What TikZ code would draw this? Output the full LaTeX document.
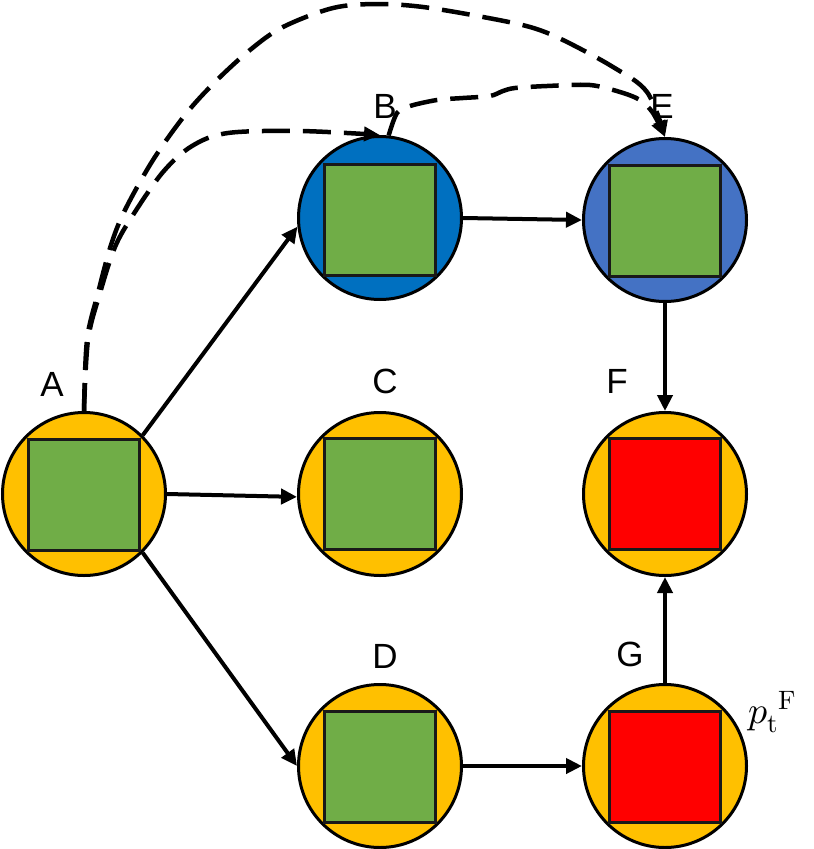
\documentclass[tikz,border=0pt]{standalone}
\usepackage{fontspec}
\usepackage{unicode-math}
\setmainfont{Liberation Sans}
\setmathfont{Latin Modern Math}
\usetikzlibrary{arrows.meta}
\definecolor{cyel}{HTML}{FFC000}
\definecolor{cgrn}{HTML}{70AD47}
\definecolor{cblu}{HTML}{0070C0}
\definecolor{cblu2}{HTML}{4472C4}
\definecolor{cred}{HTML}{FF0000}
\tikzset{
  circ/.style={circle, draw=black, line width=3pt, minimum size=163pt, inner sep=0pt},
  sqbox/.style={rectangle, draw=black!90, line width=3.5pt, minimum size=111pt, inner sep=0pt},
  lab/.style={font=\fontsize{35}{40}\selectfont, inner sep=0pt},
  conn/.style={line width=4pt, -{Triangle[length=16pt,width=15pt]}},
  dconn/.style={line width=4.5pt, dash pattern=on 28pt off 13pt, -{Triangle[length=16pt,width=14pt]}}
}
\begin{document}
\begin{tikzpicture}[x=1pt,y=-1pt]
\useasboundingbox (0,0) rectangle (814,849);
% nodes
\node[circ, fill=cyel] (A) at (84,494) {};
\node[sqbox, fill=cgrn] (Asq) at (84,495) {};
\node[circ, fill=cblu] (B) at (380,218) {};
\node[sqbox, fill=cgrn] (Bsq) at (380,220) {};
\node[circ, fill=cblu2] (E) at (665,220) {};
\node[sqbox, fill=cgrn] (Esq) at (665,221) {};
\node[circ, fill=cyel] (C) at (380,494) {};
\node[sqbox, fill=cgrn] (Csq) at (380,494) {};
\node[circ, fill=cyel] (F) at (665,494) {};
\node[sqbox, fill=cred] (Fsq) at (665,494) {};
\node[circ, fill=cyel] (D) at (380,766) {};
\node[sqbox, fill=cgrn] (Dsq) at (380,767) {};
\node[circ, fill=cyel] (G) at (665,766) {};
\node[sqbox, fill=cred] (Gsq) at (665,767) {};
% labels
\node[lab] (lA) at (52,384) {A};
\node[lab] (lB) at (385,106) {B};
\node[lab] (lC) at (385,381) {C};
\node[lab] (lD) at (385,656) {D};
\node[lab] (lE) at (662,106) {E};
\node[lab] (lF) at (617,381) {F};
\node[lab] (lG) at (630,654) {G};
\node[inner sep=0pt, font=\fontsize{38}{44}\selectfont] (pt) at (772,712) {$p_{\symup{t}}{}^{\symup{F}}$};
% solid connectors
\draw[conn] (A.45) -- (B.186);
\draw[conn] (A.east) -- (C.182);
\draw[conn] (A.-45) -- (D.west);
\draw[conn] (B.east) -- (E.180);
\draw[conn] (E.south) -- (F.north);
\draw[conn] (D.east) -- (G.west);
\draw[conn] (G.north) -- (F.south);
% dashed connectors
\draw[dconn] plot[smooth, tension=0.55] coordinates {(A.north) (88,340) (100,293) (115,247) (133,215) (163,172) (192,146) (228,133) (300,131) (B.north)};
\draw[dconn] plot[smooth, tension=0.55] coordinates {(A.north) (87,340) (98,293) (111,245) (125,210) (153,160) (185,115) (215,82) (250,50) (283,27) (333,8) (377,4) (423,7) (483,17) (530,27) (563,40) (613,67) (647,92) (E.north)};
\draw[dconn, dash phase=2pt] plot[smooth, tension=0.5] coordinates {(B.84) (397,113) (410,106) (437,100) (463,98) (490,96) (503,91) (515,88) (547,86) (590,85) (620,92) (640,100) (653,113) (E.north)};
\end{tikzpicture}
\end{document}
